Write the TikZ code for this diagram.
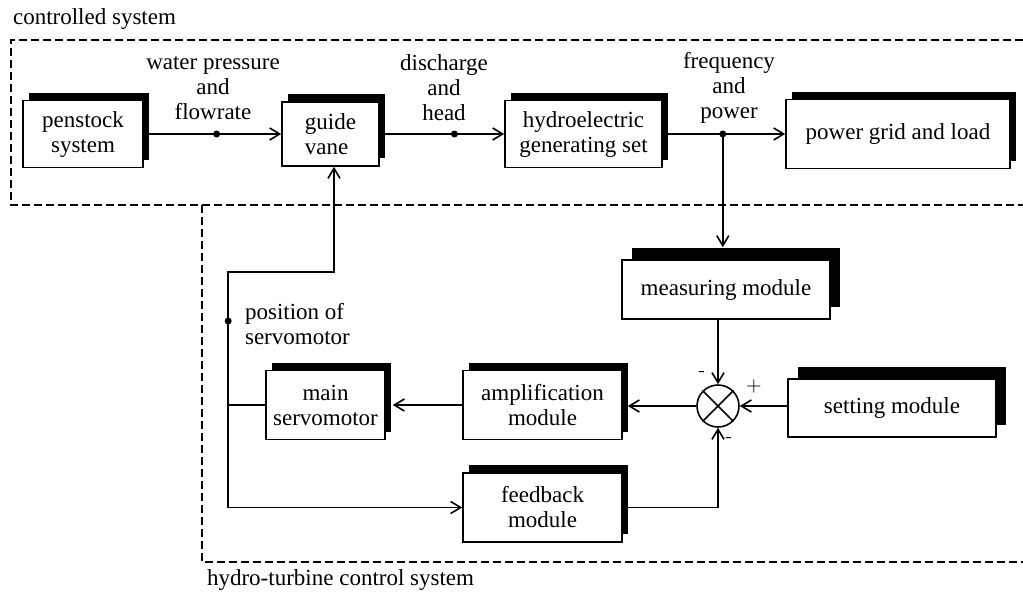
\documentclass[tikz,border=0pt]{standalone}
\usepackage{fontspec}
\setmainfont{Liberation Serif}
\usepackage{tikz}
\usetikzlibrary{arrows.meta,positioning,calc,shadows}

\begin{document}
\begin{tikzpicture}[x=0.5pt, y=0.5pt,
  every node/.style={font=\fontsize{11.5}{12.5}\selectfont},
  boxbase/.style={draw=black, line width=0.8pt, fill=white, align=center, inner sep=2pt},
  block/.style={boxbase, drop shadow={shadow xshift=3pt, shadow yshift=4pt, fill=black, opacity=1}},
  wideblock/.style={boxbase, drop shadow={shadow xshift=5pt, shadow yshift=6pt, fill=black, opacity=1}},
  link/.style={line width=0.8pt, -{Straight Barb[length=5pt, width=6pt]}},
  frame/.style={line width=0.6pt, dash pattern=on 4pt off 2pt},
  sign/.style={font=\sffamily\fontsize{10}{10}\selectfont, inner sep=0pt}]
  \useasboundingbox (0,0) rectangle (1023,-595);

  \draw [frame] (1023,-40) -- (11,-40) -- (11,-205) -- (1023,-205);
  \draw [frame] (202,-205) -- (202,-562) -- (1023,-562);
  \node (lbcs) [anchor=west] at (6,-19) {controlled system};
  \node (lbhc) [anchor=west] at (200,-580) {hydro-turbine control system};

  \node (penstock) [block, minimum width=60pt, minimum height=33.5pt] at (83,-134) {penstock\\system};
  \node (guide) [block, align=left, minimum width=48.5pt, minimum height=32pt] at (330.5,-134) {guide\\vane};
  \node (hydro) [block, minimum width=78.5pt, minimum height=33.5pt] at (583.5,-134) {hydroelectric\\generating set};
  \node (grid) [block, minimum width=112pt, minimum height=34.5pt] at (898,-134) {power grid and load};
  \node (measuring) [wideblock, minimum width=104pt, minimum height=29.5pt] at (726,-289.5) {measuring module};
  \node (sum) [circle, draw=black, line width=0.8pt, minimum size=21pt, inner sep=0pt] at (718,-406) {};
  \node (setting) [wideblock, minimum width=104pt, minimum height=29pt] at (892,-408) {setting module};
  \node (amp) [block, minimum width=79.5pt, minimum height=34.5pt] at (542.5,-405) {amplification\\module};
  \node (servo) [block, minimum width=59.5pt, minimum height=34.5pt] at (325.5,-405) {main\\servomotor};
  \node (feedback) [block, minimum width=79.5pt, minimum height=34.5pt] at (542.5,-507.5) {feedback\\module};

  \node (lbwp) [align=center] at (213,-88) {water pressure\\and\\flowrate};
  \node (lbdh) [align=center] at (444,-88) {discharge\\and\\head};
  \node (lbfp) [align=center] at (729,-88) {frequency\\and\\power};
  \node (lbpos) [align=left, anchor=west] at (238,-324) {position of\\servomotor};

  \draw [line width=0.8pt] (sum.45) -- (sum.225) (sum.135) -- (sum.315);
  \node (sgtop) [sign] at (702,-374) {-};
  \node (sgset) [sign] at (754,-386) {+};
  \node (sgfb) [sign] at (729,-440) {-};

  \coordinate (wp) at ($(penstock.east)!0.53!(guide.west)$);
  \coordinate (dh) at ($(guide.east)!0.6!(hydro.west)$);
  \coordinate (fp) at ($(hydro.east)!0.49!(grid.west)$);
  \coordinate (branch) at ($(servo.west)+(-37,0)$);
  \coordinate (pos) at ($(branch)+(0,84)$);

  \draw [link] (penstock) -- (guide);
  \draw [link] (guide) -- (hydro);
  \draw [link] (hydro) -- (grid);
  \draw [link] (fp) -- ($(fp |- measuring.north)+(0,12)$);
  \draw [link] (sum.north |- measuring.south) -- (sum.north);
  \draw [link] (setting.west |- sum.east) -- (sum.east);
  \draw [link] (sum.west) -- ($(sum.west -| amp.east)+(5,0)$);
  \draw [link] (amp.west) -- ($(servo.east)+(7,0)$);
  \draw [link] (feedback.east) -| (sum.south);
  \draw [link] (servo.west) -- (branch) |- ($(guide.south)+(3.5,-105)$) -- ($(guide.south)+(3.5,0)$);
  \draw [link] (branch) |- (feedback.west);

  \fill (wp) circle [radius=3.5];
  \fill (dh) circle [radius=3.5];
  \fill (fp) circle [radius=3.5];
  \fill (pos) circle [radius=3.5];
\end{tikzpicture}
\end{document}
